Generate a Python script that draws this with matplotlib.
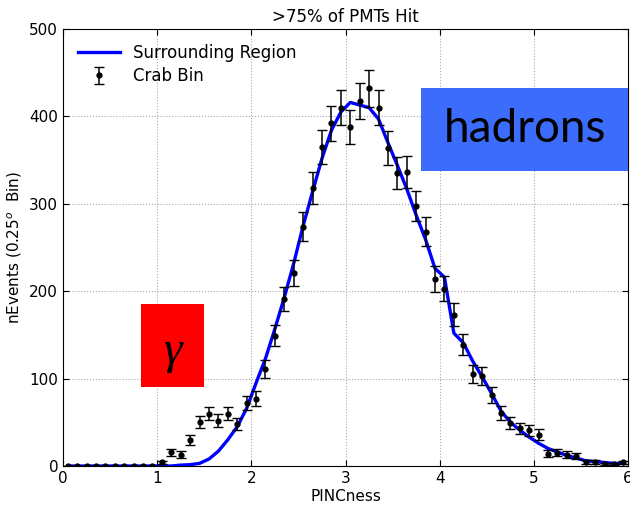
import numpy as np
import matplotlib
matplotlib.use("Agg")
import matplotlib.pyplot as plt
from matplotlib.patches import Rectangle

# Bin centres (0.1 wide bins)
bin_centers = [round(0.05 + 0.1 * i, 2) for i in range(60)]

crab_counts = [0, 0, 0, 0, 0, 0, 0, 0, 0, 0,
               4, 16, 13, 30, 50, 60, 52, 60, 48, 72,
               77, 111, 149, 191, 221, 274, 318, 365, 392, 410,
               388, 418, 432, 410, 364, 335, 336, 297, 268, 214,
               203, 173, 139, 105, 103, 81, 61, 49, 43, 41,
               36, 14, 15, 13, 11, 5, 5, 2, 2, 4]

surrounding = [0, 0, 0, 0, 0, 0, 0, 0, 0, 0,
               0, 0, 1, 1.5, 3, 8, 17, 30, 45, 66,
               95, 123, 157, 193, 232, 275, 314, 352, 384, 405,
               416, 413, 410, 397, 370, 344, 317, 287, 259, 226,
               216, 152, 141, 120, 102, 83, 63, 50, 41, 33,
               26, 20, 16, 12, 9, 6, 5, 4, 3, 3]

crab_err = np.sqrt(np.array(crab_counts, dtype=float))

title = ">75% of PMTs Hit"
xlabel = "PINCness"
ylabel = r"nEvents (0.25$^o$  Bin)"

fig = plt.figure(figsize=(6.30, 5.09), dpi=100)
ax = fig.add_axes([0.1, 0.0845, 0.897, 0.8585])

ax.plot(bin_centers, surrounding, color="#0000ff", lw=2.4, label="Surrounding Region", zorder=3)
ax.errorbar(bin_centers, crab_counts, yerr=crab_err, fmt="o", color="black",
            markersize=3.5, capsize=3.5, elinewidth=1.1, capthick=1.0,
            ecolor="black", label="Crab Bin", zorder=4)

ax.set_xlim(0, 6)
ax.set_ylim(0, 500)
ax.set_xticks(range(0, 7))
ax.set_yticks(range(0, 501, 100))
ax.tick_params(direction="in", top=True, right=True, labelsize=11, length=4)
ax.grid(True, linestyle=":", color="#aaaaaa", linewidth=0.8)
ax.set_title(title, fontsize=12, pad=5)
ax.set_xlabel(xlabel, fontsize=11, labelpad=2)
ax.set_ylabel(ylabel, fontsize=11, labelpad=4)

leg = ax.legend(loc="upper left", frameon=False, fontsize=12,
                handlelength=2.5, borderaxespad=0.5, labelspacing=0.3)

# Overlay annotation boxes (figure pixel coordinates -> fraction)
W, H = 630.0, 509.0
def fr(x0, y0, x1, y1):
    return (x0 / W, 1 - y1 / H, (x1 - x0) / W, (y1 - y0) / H)

rx, ry, rw, rh = fr(141, 304, 204, 387)
fig.patches.append(Rectangle((rx, ry), rw, rh, transform=fig.transFigure,
                             facecolor="#ff0000", edgecolor="none", zorder=10))
fig.text(rx + rw / 2, ry + rh / 2 - 0.012, "γ", fontsize=34, family="Liberation Serif",
         style="italic", ha="center", va="center", zorder=11)

bx, by, bw, bh = fr(421, 88, 628, 171)
fig.patches.append(Rectangle((bx, by), bw, bh, transform=fig.transFigure,
                             facecolor="#3c6cfb", edgecolor="none", zorder=10))
fig.text(bx + bw / 2, by + bh / 2, "hadrons", fontsize=33, family="Lato",
         ha="center", va="center", zorder=11)

fig.savefig("out.png", dpi=100)
